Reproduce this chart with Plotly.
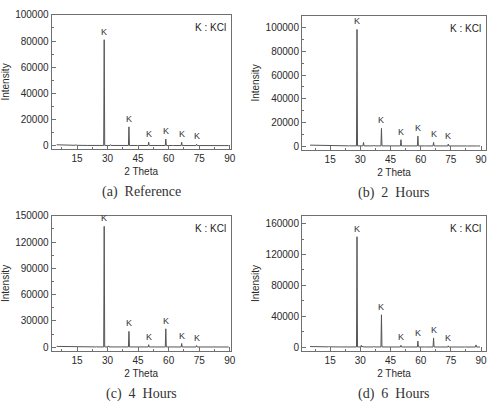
import plotly.graph_objects as go

# ---- data ----
peak_pos = [28.35, 40.5, 50.2, 58.6, 66.4, 73.7]

a_heights = [81000, 14500, 2800, 5200, 2800, 1200]
b_heights = [98500, 15000, 5500, 8500, 3200, 1800]
c_heights = [138000, 18000, 2800, 21000, 4200, 1800]
d_heights = [143000, 42000, 2500, 8000, 12000, 1800]

# minor (unlabelled) reflections: position, height
a_minor_pos = [14.5, 24.5, 31.5, 36.8, 45.0, 55.0, 62.0, 83.0]
a_minor_val = [900, 500, 900, 700, 500, 400, 400, 400]
b_minor_pos = [14.5, 24.5, 31.6, 36.8, 45.0, 55.0, 62.0, 83.0, 88.0]
b_minor_val = [800, 500, 3200, 900, 500, 400, 400, 400, 600]
c_minor_pos = [7.5, 14.5, 24.5, 30.5, 36.8, 45.0, 55.0, 62.0, 83.0]
c_minor_val = [900, 700, 600, 1500, 800, 600, 500, 500, 400]
d_minor_pos = [7.0, 14.5, 22.5, 30.5, 31.2, 36.8, 45.0, 55.0, 62.0, 82.0, 87.5]
d_minor_val = [900, 1200, 600, 2500, 1500, 1200, 800, 600, 600, 500, 3000]

background_x = [5.0, 10.0, 20.0, 89.5]
a_background = [800, 500, 300, 200]
b_background = [900, 600, 300, 200]
c_background = [900, 600, 300, 200]
d_background = [900, 600, 400, 300]

tick_vals_x = [15, 30, 45, 60, 75, 90]
a_yticks = [0, 20000, 40000, 60000, 80000, 100000]
b_yticks = [0, 20000, 40000, 60000, 80000, 100000]
c_yticks = [0, 30000, 60000, 90000, 120000, 150000]
d_yticks = [0, 40000, 80000, 120000, 160000]

captions = ["(a)  Reference", "(b)  2  Hours", "(c)  4  Hours", "(d)  6  Hours"]
peak_label = "K"
legend_text = "K : KCl"


def bg_at(x, bx, by):
    for i in range(len(bx) - 1):
        if bx[i] <= x <= bx[i + 1]:
            t = (x - bx[i]) / (bx[i + 1] - bx[i])
            return by[i] + t * (by[i + 1] - by[i])
    return by[-1]


def build_pattern(heights, mpos, mval, bg):
    pts = []
    for p in background_x:
        pts.append((p, bg_at(p, background_x, bg)))
    for p, h in list(zip(peak_pos, heights)) + list(zip(mpos, mval)):
        b = bg_at(p, background_x, bg)
        pts.append((p - 0.25, b))
        pts.append((p, h))
        pts.append((p + 0.25, b))
    pts.sort()
    return [q[0] for q in pts], [q[1] for q in pts]


panels = [
    dict(h=a_heights, mp=a_minor_pos, mv=a_minor_val, bg=a_background, yt=a_yticks,
         xr=[2.5, 90.5], yr=[-2500, 100000], xd=[0.105, 0.470], yd=[0.644, 0.978]),
    dict(h=b_heights, mp=b_minor_pos, mv=b_minor_val, bg=b_background, yt=b_yticks,
         xr=[1.0, 92.5], yr=[-3300, 110000], xd=[0.615, 0.990], yd=[0.6415, 0.9756]),
    dict(h=c_heights, mp=c_minor_pos, mv=c_minor_val, bg=c_background, yt=c_yticks,
         xr=[2.5, 90.5], yr=[-4500, 150000], xd=[0.105, 0.470], yd=[0.1415, 0.478]),
    dict(h=d_heights, mp=d_minor_pos, mv=d_minor_val, bg=d_background, yt=d_yticks,
         xr=[1.0, 92.5], yr=[-5000, 170000], xd=[0.615, 0.990], yd=[0.1415, 0.478]),
]

fig = go.Figure()
axis_font = dict(family="Liberation Sans, Arial", size=10, color="#2a2a2a")
frame = "#707070"
annotations = []

for i, p in enumerate(panels):
    n = "" if i == 0 else str(i + 1)
    xs, ys = build_pattern(p["h"], p["mp"], p["mv"], p["bg"])
    fig.add_trace(go.Scatter(x=xs, y=ys, mode="lines",
                             line=dict(color="#555555", width=1),
                             xaxis="x" + n, yaxis="y" + n, showlegend=False,
                             hoverinfo="skip"))
    fig.layout["xaxis" + n] = dict(
        domain=p["xd"], anchor="y" + n, range=p["xr"], tickvals=tick_vals_x,
        ticks="inside", ticklen=4, tickcolor=frame, showline=True, linecolor=frame,
        linewidth=1, mirror=True, showgrid=False, zeroline=False, tickfont=axis_font,
        minor=dict(tickvals=[22.5, 37.5, 52.5, 67.5, 82.5, 7.5], ticks="inside", ticklen=2, tickcolor=frame),
        title=dict(text="2 Theta", font=axis_font, standoff=4))
    ystep = p["yt"][1] - p["yt"][0]
    fig.layout["yaxis" + n] = dict(
        domain=p["yd"], anchor="x" + n, range=p["yr"], tickvals=p["yt"],
        ticktext=[str(v) for v in p["yt"]],
        ticks="inside", ticklen=4, tickcolor=frame, showline=True, linecolor=frame,
        linewidth=1, mirror=True, showgrid=False, zeroline=False, tickfont=axis_font,
        minor=dict(tickvals=[v + ystep / 2 for v in p["yt"]], ticks="inside", ticklen=2, tickcolor=frame),
        title=dict(text="Intensity", font=axis_font, standoff=4))
    for px_, h in zip(peak_pos, p["h"]):
        annotations.append(dict(x=px_, y=h, xref="x" + n, yref="y" + n, text=peak_label,
                                showarrow=False, yanchor="bottom", yshift=1,
                                font=dict(family="Liberation Sans, Arial", size=9, color="#333")))
    annotations.append(dict(x=p["xd"][1] - 0.006, y=p["yd"][1] - 0.012, xref="paper", yref="paper",
                            text=legend_text, showarrow=False, xanchor="right", yanchor="top",
                            font=dict(family="Liberation Sans, Arial", size=10, color="#222")))
    annotations.append(dict(x=(p["xd"][0] + p["xd"][1]) / 2, y=p["yd"][0] - 0.083,
                            xref="paper", yref="paper", text=captions[i], showarrow=False,
                            xanchor="center", yanchor="top",
                            font=dict(family="Liberation Serif, DejaVu Serif", size=14, color="#333")))

fig.update_layout(width=496, height=410, margin=dict(l=0, r=0, t=0, b=0),
                  paper_bgcolor="white", plot_bgcolor="white", annotations=annotations)
fig.write_html("out.html")
